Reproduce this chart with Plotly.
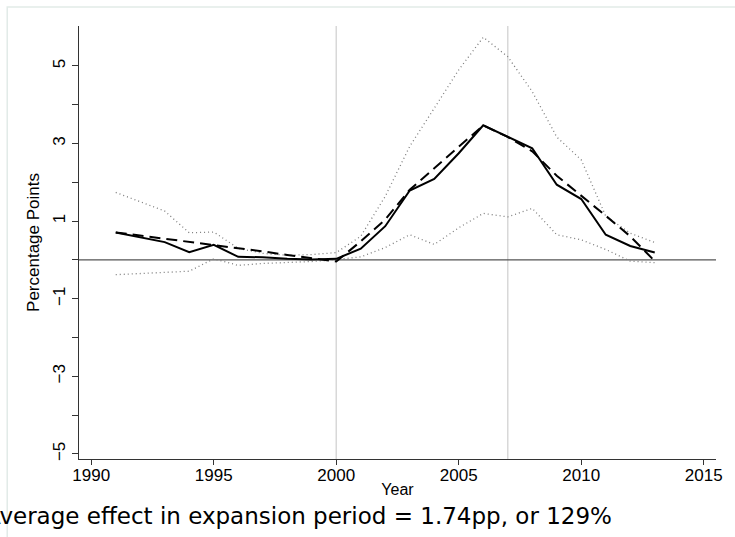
import plotly.graph_objects as go

years = list(range(1991, 2014))
estimate = [0.71, 0.58, 0.46, 0.20, 0.39, 0.08, 0.07, 0.03, 0.01, 0.03,
            0.29, 0.87, 1.79, 2.09, 2.75, 3.47, 3.18, 2.88, 1.94, 1.57,
            0.65, 0.36, 0.19]
fitted = [0.71, 0.63, 0.54, 0.47, 0.39, 0.30, 0.22, 0.13, 0.05, -0.04,
          0.48, 1.04, 1.81, 2.37, 2.93, 3.47, 3.17, 2.80, 2.17, 1.66,
          1.14, 0.61, -0.03]
ci_upper = [1.74, 1.51, 1.26, 0.70, 0.72, 0.30, 0.17, 0.12, 0.14, 0.19,
            0.61, 1.64, 2.93, 3.91, 4.90, 5.74, 5.24, 4.34, 3.17, 2.58,
            1.13, 0.69, 0.45]
ci_lower = [-0.38, -0.35, -0.32, -0.29, 0.03, -0.14, -0.09, -0.06, -0.04, 0.01,
            0.08, 0.32, 0.65, 0.40, 0.83, 1.20, 1.11, 1.33, 0.65, 0.52,
            0.27, -0.03, -0.07]
x_ticks = [1990, 1995, 2000, 2005, 2010, 2015]
y_ticks = [-5, -3, -1, 1, 3, 5]
y_minor = [-4, -2, 0, 2, 4]
vlines = [2000, 2007]
note = "Average effect in expansion period = 1.74pp, or 129%"

W, H = 735, 537
L, R, T, B = 79, 17, 26, 78
pw, ph = W - L - R, H - T - B

fig = go.Figure()
fig.add_trace(go.Scatter(x=years, y=ci_upper, mode="lines",
                         line=dict(color="#7c7c7c", width=1.3, dash="1px,3px")))
fig.add_trace(go.Scatter(x=years, y=ci_lower, mode="lines",
                         line=dict(color="#7c7c7c", width=1.3, dash="1px,3px")))
fig.add_trace(go.Scatter(x=years, y=fitted, mode="lines",
                         line=dict(color="black", width=2, dash="11px,6px")))
fig.add_trace(go.Scatter(x=years, y=estimate, mode="lines",
                         line=dict(color="black", width=2)))

shapes = []
for v in vlines:
    shapes.append(dict(type="line", xref="x", yref="paper", x0=v, x1=v, y0=0, y1=1,
                       line=dict(color="#d8d8d8", width=1.5), layer="below"))
shapes.append(dict(type="line", xref="paper", yref="y", x0=0, x1=1, y0=0, y1=0,
                   line=dict(color="#555555", width=1.2), layer="below"))
# outer frame
shapes.append(dict(type="rect", xref="paper", yref="paper",
                   x0=(7 - L) / pw, x1=(W + 5 - L) / pw,
                   y0=(H - B - (H + 5)) / ph, y1=(H - B - 7) / ph,
                   line=dict(color="#e2ebe8", width=1.5), fillcolor="rgba(0,0,0,0)",
                   layer="below"))

font_main = "Liberation Sans, Arial, sans-serif"
fig.update_layout(
    width=W, height=H,
    margin=dict(l=L, r=R, t=T, b=B),
    paper_bgcolor="white", plot_bgcolor="white",
    showlegend=False,
    shapes=shapes,
    font=dict(family=font_main, size=17, color="black"),
    xaxis=dict(range=[1989.5, 2015.5], tickvals=x_ticks, ticks="outside", ticklen=5,
               tickcolor="#333333", showgrid=False, zeroline=False, showline=True,
               linecolor="#333333", linewidth=1.2, ticklabelstandoff=-5,
               title=dict(text="Year", standoff=0, font=dict(size=16)),
               tickfont=dict(size=17)),
    yaxis=dict(range=[-5.13, 6.03], tickvals=y_ticks, ticks="outside", ticklen=6,
               tickcolor="#333333", tickangle=-90, showgrid=False, zeroline=False,
               showline=True, linecolor="#333333", linewidth=1.2,
               minor=dict(tickvals=y_minor, ticks="outside", ticklen=6, tickcolor="#333333"),
               title=dict(text="Percentage Points", standoff=6, font=dict(size=17)),
               tickfont=dict(size=17)),
    annotations=[dict(text=note, xref="paper", yref="paper",
                      x=(-17 - L) / pw, y=(H - B - 516) / ph,
                      xanchor="left", yanchor="middle", showarrow=False,
                      font=dict(family="DejaVu Sans", size=23, color="black"))],
)
fig.write_html("out.html")
